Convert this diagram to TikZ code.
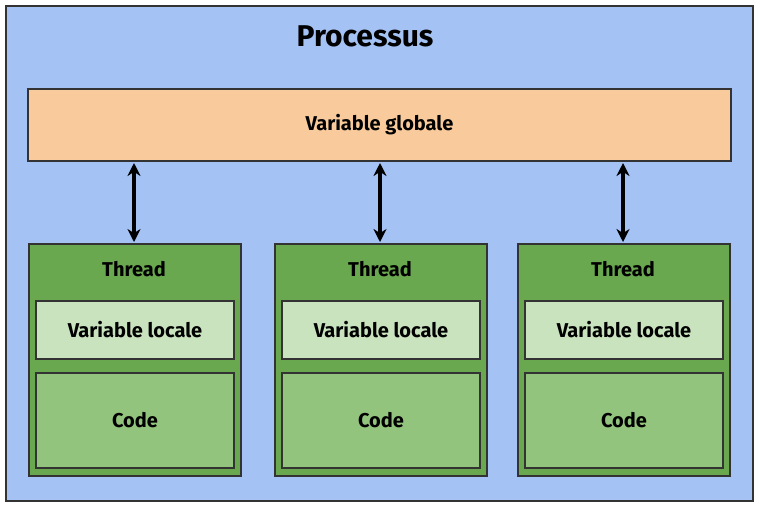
\documentclass[tikz,border=0pt]{standalone}
\usepackage{fontspec}
\setmainfont{Fira Sans}
\usetikzlibrary{arrows.meta}
\definecolor{bluebg}{HTML}{A4C2F4}
\definecolor{orangebg}{HTML}{F9CB9C}
\definecolor{dkgreen}{HTML}{6AA84F}
\definecolor{ltgreen}{HTML}{C9E3BE}
\definecolor{mdgreen}{HTML}{93C47D}
\definecolor{edge}{HTML}{333333}
\begin{document}
\begin{tikzpicture}[x=1pt,y=-1pt,
  box/.style={draw=edge,line width=2pt,rectangle},
  lbl/.style={font=\bfseries\fontsize{20}{24}\selectfont},
  arr/.style={{Stealth[length=13pt,width=13pt]}-{Stealth[length=13pt,width=13pt]},line width=4.5pt,black}]
\useasboundingbox (0,0) rectangle (760,507);
\node[box,fill=bluebg,minimum width=747pt,minimum height=495pt,anchor=north west] (proc) at (5,5) {};
\node[font=\bfseries\fontsize{30}{34}\selectfont] (title) at (365,36) {Processus};
\node[box,fill=orangebg,minimum width=703pt,minimum height=72pt,anchor=north west,lbl] (glob) at (27,88) {Variable globale};
\foreach \i/\x in {1/28,2/274,3/517}{
  \node[box,fill=dkgreen,minimum width=212pt,minimum height=232pt,anchor=north west] (t\i) at (\x,243) {};
  \node[lbl] (tl\i) at (\x+106,269) {Thread};
  \node[box,fill=ltgreen,minimum width=198pt,minimum height=58pt,anchor=north west,lbl] (v\i) at (\x+7,300) {Variable locale};
  \node[box,fill=mdgreen,minimum width=198pt,minimum height=95pt,anchor=north west,lbl] (c\i) at (\x+7,372) {Code};
  \draw[arr] (t\i.north -| \x+106,0) ++(0,-1) -- ([yshift=-1pt]glob.south -| \x+106,0);
}
\end{tikzpicture}
\end{document}
